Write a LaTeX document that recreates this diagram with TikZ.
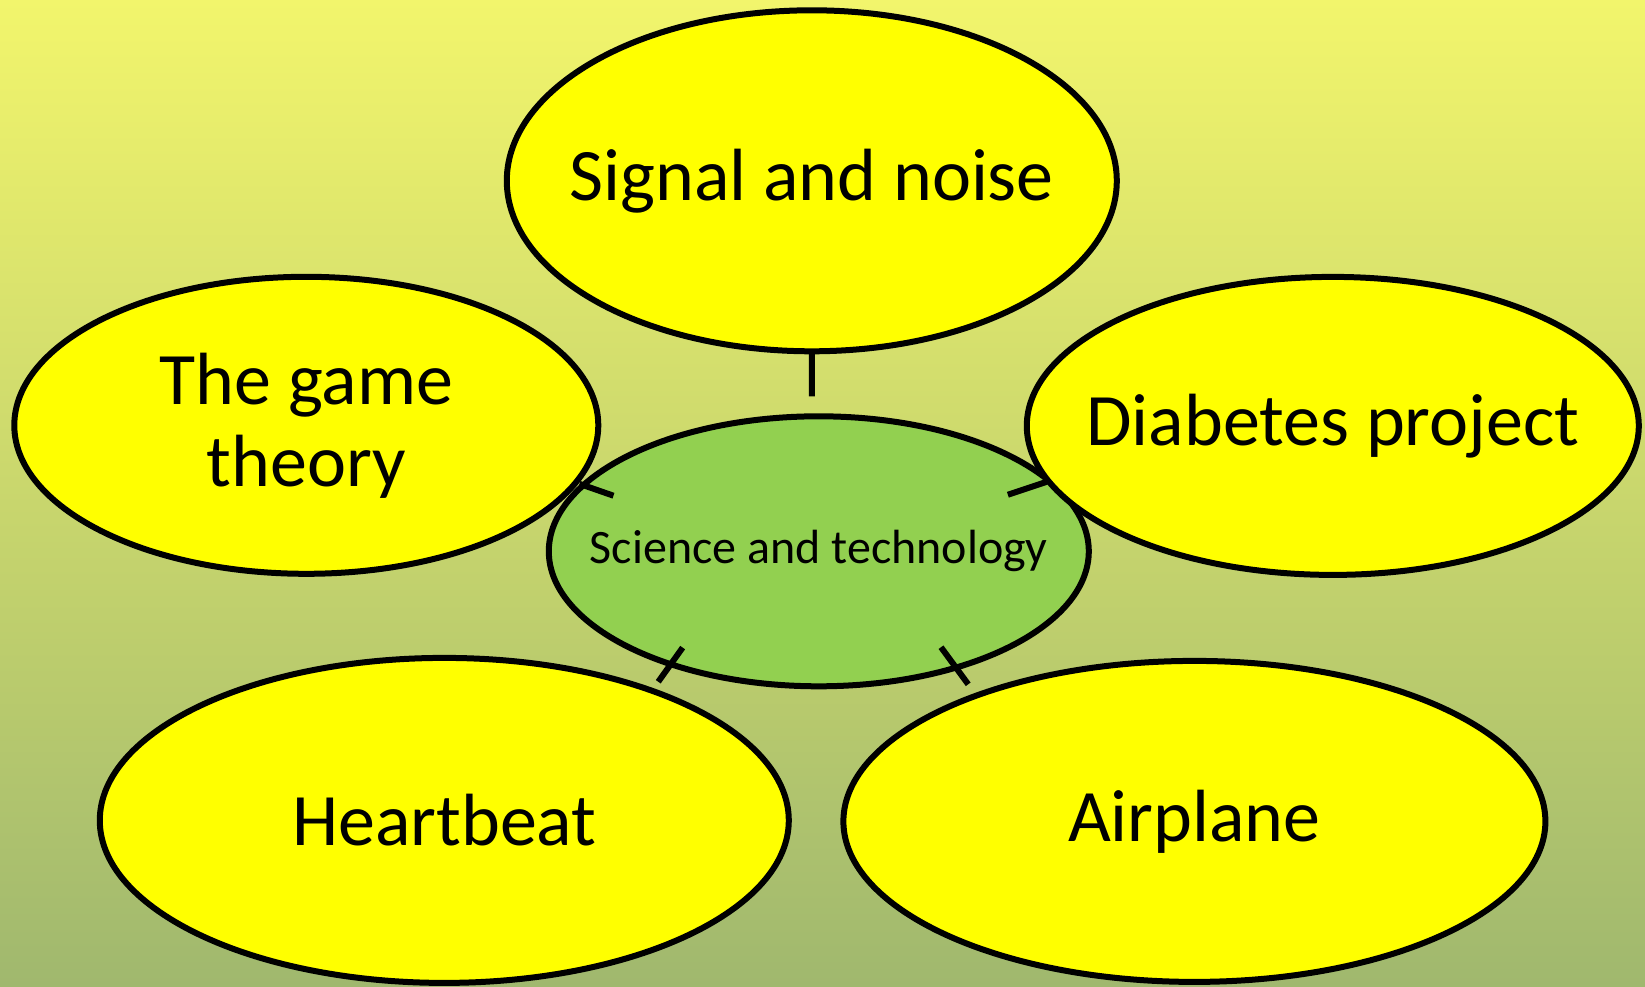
\documentclass[tikz,border=0pt]{standalone}
\usepackage{fontspec}
\setmainfont{Carlito}
\usepackage{tikz}
\usetikzlibrary{shapes.geometric,positioning,calc}

\definecolor{bgtop}{RGB}{242,245,108}
\definecolor{bgbottom}{RGB}{160,184,110}
\definecolor{bubbleyellow}{RGB}{255,255,0}
\definecolor{hubgreen}{RGB}{146,208,80}

\begin{document}
\begin{tikzpicture}[
    bubble/.style={ellipse, draw=black, line width=6pt, fill=bubbleyellow, inner xsep=-250pt, inner ysep=0pt, outer sep=0pt, align=center, font=\fontsize{74}{82}\selectfont},
    hub/.style={bubble, fill=hubgreen, font=\fontsize{48}{56}\selectfont},
    link/.style={draw=black, line width=6pt}
]
    % background with the yellow-green fade
    \useasboundingbox (-818.8pt,-434.7pt) rectangle (826.2pt,551.3pt);
    \shade [top color=bgtop, bottom color=bgbottom] (-818.8pt,-434.7pt) rectangle (826.2pt,551.3pt);

    % central topic
    \node [hub, minimum width=540pt, minimum height=270pt] (sci) at (0,0) {Science and technology};

    % topics around it
    \node [bubble, minimum width=610pt, minimum height=341pt, above=65pt of sci, xshift=-7pt] (signal) {Signal and noise};
    \node [bubble, minimum width=584pt, minimum height=297pt, left=-49.5pt of sci, yshift=126pt] (game) {The game\\theory};
    \node [bubble, minimum width=612pt, minimum height=298pt, right=-62pt of sci, yshift=125.4pt] (diabetes) {Diabetes project};
    \node [bubble, minimum width=689pt, minimum height=325pt, below=-28.4pt of sci, xshift=-374.5pt] (heart) {Heartbeat};
    \node [bubble, minimum width=702pt, minimum height=321pt, below=-25.4pt of sci, xshift=375.6pt] (air) {Airplane};

    % short ticks between the hub and each topic
    \draw [link] (signal.south) -- ($(signal.south)!45pt!(sci.93)$);
    \draw [link] ($(game.348)!4pt!(sci.337)$) -- ($(game.348)!40pt!(sci.337)$);
    \draw [link] ($(diabetes.191)!2pt!(sci.200)$) -- ($(diabetes.191)!43pt!(sci.200)$);
    \draw [link] ($(heart.32)!11pt!(sci.78)$) -- ($(heart.32)!53pt!(sci.78)$);
    \draw [link] ($(air.150)!14pt!(sci.109)$) -- ($(air.150)!60pt!(sci.109)$);
\end{tikzpicture}
\end{document}
